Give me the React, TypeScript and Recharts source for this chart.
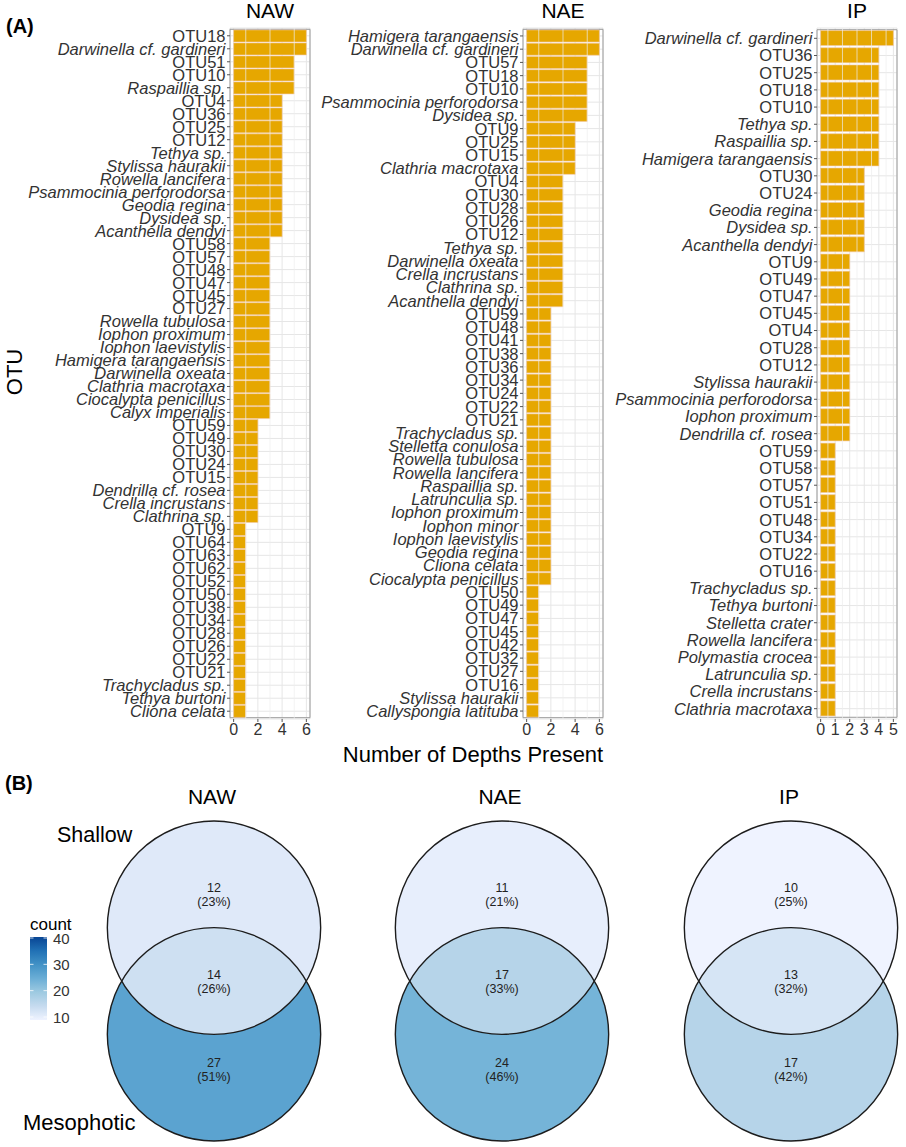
import React from "react";
import {
  BarChart,
  Bar,
  XAxis,
  YAxis,
  CartesianGrid,
  ReferenceLine,
  ReferenceArea,
  ScatterChart,
  Scatter,
} from "recharts";

const FONT = "'Liberation Sans', Arial, Helvetica, sans-serif";

// ---- Panel A: number of depths each OTU was found at ----
const nawTaxa = [
  "OTU18", "Darwinella cf. gardineri", "OTU51", "OTU10", "Raspaillia sp.",
  "OTU4", "OTU36", "OTU25", "OTU12", "Tethya sp.", "Stylissa haurakii",
  "Rowella lancifera", "Psammocinia perforodorsa", "Geodia regina", "Dysidea sp.",
  "Acanthella dendyi", "OTU58", "OTU57", "OTU48", "OTU47", "OTU45", "OTU27",
  "Rowella tubulosa", "Iophon proximum", "Iophon laevistylis", "Hamigera tarangaensis",
  "Darwinella oxeata", "Clathria macrotaxa", "Ciocalypta penicillus", "Calyx imperialis",
  "OTU59", "OTU49", "OTU30", "OTU24", "OTU15", "Dendrilla cf. rosea",
  "Crella incrustans", "Clathrina sp.", "OTU9", "OTU64", "OTU63", "OTU62", "OTU52",
  "OTU50", "OTU38", "OTU34", "OTU28", "OTU26", "OTU22", "OTU21",
  "Trachycladus sp.", "Tethya burtoni", "Cliona celata",
];
const nawDepths = [
  6, 6, 5, 5, 5,
  4, 4, 4, 4, 4, 4, 4, 4, 4, 4, 4,
  3, 3, 3, 3, 3, 3, 3, 3, 3, 3, 3, 3, 3, 3,
  2, 2, 2, 2, 2, 2, 2, 2,
  1, 1, 1, 1, 1, 1, 1, 1, 1, 1, 1, 1, 1, 1, 1,
];

const naeTaxa = [
  "Hamigera tarangaensis", "Darwinella cf. gardineri", "OTU57", "OTU18", "OTU10",
  "Psammocinia perforodorsa", "Dysidea sp.", "OTU9", "OTU25", "OTU15",
  "Clathria macrotaxa", "OTU4", "OTU30", "OTU28", "OTU26", "OTU12", "Tethya sp.",
  "Darwinella oxeata", "Crella incrustans", "Clathrina sp.", "Acanthella dendyi",
  "OTU59", "OTU48", "OTU41", "OTU38", "OTU36", "OTU34", "OTU24", "OTU22", "OTU21",
  "Trachycladus sp.", "Stelletta conulosa", "Rowella tubulosa", "Rowella lancifera",
  "Raspaillia sp.", "Latrunculia sp.", "Iophon proximum", "Iophon minor",
  "Iophon laevistylis", "Geodia regina", "Cliona celata", "Ciocalypta penicillus",
  "OTU50", "OTU49", "OTU47", "OTU45", "OTU42", "OTU32", "OTU27", "OTU16",
  "Stylissa haurakii", "Callyspongia latituba",
];
const naeDepths = [
  6, 6, 5, 5, 5, 5, 5,
  4, 4, 4, 4,
  3, 3, 3, 3, 3, 3, 3, 3, 3, 3,
  2, 2, 2, 2, 2, 2, 2, 2, 2, 2, 2, 2, 2, 2, 2, 2, 2, 2, 2, 2, 2,
  1, 1, 1, 1, 1, 1, 1, 1, 1, 1,
];

const ipTaxa = [
  "Darwinella cf. gardineri", "OTU36", "OTU25", "OTU18", "OTU10", "Tethya sp.",
  "Raspaillia sp.", "Hamigera tarangaensis", "OTU30", "OTU24", "Geodia regina",
  "Dysidea sp.", "Acanthella dendyi", "OTU9", "OTU49", "OTU47", "OTU45", "OTU4",
  "OTU28", "OTU12", "Stylissa haurakii", "Psammocinia perforodorsa",
  "Iophon proximum", "Dendrilla cf. rosea", "OTU59", "OTU58", "OTU57", "OTU51",
  "OTU48", "OTU34", "OTU22", "OTU16", "Trachycladus sp.", "Tethya burtoni",
  "Stelletta crater", "Rowella lancifera", "Polymastia crocea", "Latrunculia sp.",
  "Crella incrustans", "Clathria macrotaxa",
];
const ipDepths = [
  5,
  4, 4, 4, 4, 4, 4, 4,
  3, 3, 3, 3, 3,
  2, 2, 2, 2, 2, 2, 2, 2, 2, 2, 2,
  1, 1, 1, 1, 1, 1, 1, 1, 1, 1, 1, 1, 1, 1, 1, 1,
];

// ---- Panel B: Venn counts per region ----
const vennSites = ["NAW", "NAE", "IP"];
const shallowOnly = [12, 11, 10];
const sharedBoth = [14, 17, 13];
const mesophoticOnly = [27, 24, 17];
const countLegendTicks = [40, 30, 20, 10];

// ---- layout ----
const PLOT_TOP = 28;
const PLOT_H = 691;
const PLOT_W = 80;
const CHART_H = PLOT_TOP + PLOT_H + 30;

const BLUES = ["#EFF3FF", "#C6DBEF", "#9ECAE1", "#6BAED6", "#4292C6", "#2171B5", "#084594"];
const FILL_MIN = 10;
const FILL_MAX = 40;

function hex(c: string) {
  return [1, 3, 5].map((i) => parseInt(c.slice(i, i + 2), 16));
}

function blues(v: number) {
  const t = Math.min(1, Math.max(0, (v - FILL_MIN) / (FILL_MAX - FILL_MIN)));
  const pos = t * (BLUES.length - 1);
  const i = Math.min(BLUES.length - 2, Math.floor(pos));
  const f = pos - i;
  const a = hex(BLUES[i]);
  const b = hex(BLUES[i + 1]);
  const rgb = a.map((x, k) => Math.round(x + (b[k] - x) * f));
  return `rgb(${rgb.join(",")})`;
}

// R style rounding (half to even) so 32.5 gives 32
function pct(v: number, total: number) {
  const p = (v / total) * 100;
  const f = Math.floor(p);
  if (Math.abs(p - f - 0.5) < 1e-9) return f % 2 === 0 ? f : f + 1;
  return Math.round(p);
}

const OtuTick = (props: any) => {
  const { x, y, payload } = props;
  const label = String(payload.value);
  const italic = !label.startsWith("OTU");
  return (
    <text
      x={x}
      y={y}
      dy="0.36em"
      textAnchor="end"
      fontSize={16.5}
      fill="#333"
      fontFamily={FONT}
      fontStyle={italic ? "italic" : "normal"}
    >
      {label}
    </text>
  );
};

function DepthPanel({
  taxa,
  depths,
  left,
  axisWidth,
  maxTick,
  majorTicks,
  minorTicks,
}: {
  taxa: string[];
  depths: number[];
  left: number;
  axisWidth: number;
  maxTick: number;
  majorTicks: number[];
  minorTicks: number[];
}) {
  const data = taxa.map((name, i) => ({ name, depths: depths[i] }));
  const band = PLOT_H / (data.length + 0.2);
  const pad = band * 0.1;
  const lo = -0.05 * maxTick;
  const hi = maxTick * 1.05;
  return (
    <div style={{ position: "absolute", left, top: 0 }}>
      <BarChart
        width={axisWidth + PLOT_W + 5}
        height={CHART_H}
        data={data}
        layout="vertical"
        margin={{ top: PLOT_TOP, right: 5, bottom: 0, left: 0 }}
        barCategoryGap="5%"
      >
        <CartesianGrid stroke="#E6E6E6" strokeWidth={1} />
        {minorTicks.map((v) => (
          <ReferenceLine key={v} x={v} stroke="#EEEEEE" strokeWidth={0.7} />
        ))}
        <XAxis
          type="number"
          domain={[lo, hi]}
          ticks={majorTicks}
          allowDataOverflow
          interval={0}
          axisLine={false}
          tickLine={{ stroke: "#555" }}
          tickSize={3}
          tickMargin={2}
          height={30}
          tick={{ fontSize: 16, fill: "#333", fontFamily: FONT }}
        />
        <YAxis
          type="category"
          dataKey="name"
          width={axisWidth}
          interval={0}
          axisLine={false}
          tickLine={{ stroke: "#555" }}
          tickSize={3}
          tickMargin={1.5}
          tick={<OtuTick />}
          padding={{ top: pad, bottom: pad }}
        />
        <Bar
          dataKey="depths"
          fill="#E6A700"
          stroke="#F2C7A6"
          strokeWidth={0.6}
          isAnimationActive={false}
        />
        <ReferenceArea
          x1={lo}
          x2={hi}
          fill="none"
          stroke="#9A9A9A"
          strokeWidth={1}
          ifOverflow="visible"
        />
      </BarChart>
    </div>
  );
}

// Venn geometry: two unit circles, centres one radius apart
const VW = 288;
const VH = 330;
const PPU = VW / 2.7;
const X_HALF = 1.35;
const Y_HALF = VH / PPU / 2;
const CENTRE_OFFSET = 0.5;
const VENN_MID_Y = 980.5;
const vennCentreX = [214, 502, 791];

const CircleFill = (p: any) => (
  <circle cx={p.cx} cy={p.cy} r={PPU} fill={blues(p.payload.count)} />
);

const CircleEdge = (p: any) => (
  <circle cx={p.cx} cy={p.cy} r={PPU} fill="none" stroke="#1c1c1c" strokeWidth={1.4} />
);

const LensFill = (p: any) => {
  const w = Math.sqrt(1 - CENTRE_OFFSET * CENTRE_OFFSET) * PPU;
  const d = `M ${p.cx - w} ${p.cy} A ${PPU} ${PPU} 0 0 1 ${p.cx + w} ${p.cy} A ${PPU} ${PPU} 0 0 1 ${p.cx - w} ${p.cy} Z`;
  return <path d={d} fill={blues(p.payload.count)} />;
};

const CountLabel = (p: any) => (
  <text textAnchor="middle" fontSize={12.5} fill="#222" fontFamily={FONT}>
    <tspan x={p.cx} y={p.cy - 2.5}>{p.payload.count}</tspan>
    <tspan x={p.cx} y={p.cy + 11.5}>({pct(p.payload.count, p.payload.total)}%)</tspan>
  </text>
);

function VennPanel({ idx }: { idx: number }) {
  const total = shallowOnly[idx] + sharedBoth[idx] + mesophoticOnly[idx];
  const circles = [
    { x: 0, y: -CENTRE_OFFSET, count: mesophoticOnly[idx] },
    { x: 0, y: CENTRE_OFFSET, count: shallowOnly[idx] },
  ];
  const lens = [{ x: 0, y: 0, count: sharedBoth[idx] }];
  const labels = [
    { x: 0, y: 0.81, count: shallowOnly[idx], total },
    { x: 0, y: 0, count: sharedBoth[idx], total },
    { x: 0, y: -0.83, count: mesophoticOnly[idx], total },
  ];
  return (
    <div
      style={{
        position: "absolute",
        left: vennCentreX[idx] - VW / 2,
        top: VENN_MID_Y - VH / 2,
      }}
    >
      <ScatterChart width={VW} height={VH} margin={{ top: 0, right: 0, bottom: 0, left: 0 }}>
        <XAxis type="number" dataKey="x" domain={[-X_HALF, X_HALF]} hide allowDataOverflow />
        <YAxis type="number" dataKey="y" domain={[-Y_HALF, Y_HALF]} hide allowDataOverflow />
        <Scatter data={circles} shape={CircleFill} isAnimationActive={false} />
        <Scatter data={lens} shape={LensFill} isAnimationActive={false} />
        <Scatter data={circles} shape={CircleEdge} isAnimationActive={false} />
        <Scatter data={labels} shape={CountLabel} isAnimationActive={false} />
      </ScatterChart>
    </div>
  );
}

function Overlay() {
  const barTop = 937;
  const barBottom = 1020;
  const legendY = (v: number) => 1017 - ((v - 10) * 79) / 30;
  return (
    <svg
      width={906}
      height={1147}
      style={{ position: "absolute", left: 0, top: 0, pointerEvents: "none" }}
      fontFamily={FONT}
    >
      <defs>
        <linearGradient id="countGrad" x1="0" y1="1" x2="0" y2="0">
          {BLUES.map((c, i) => (
            <stop key={c} offset={i / (BLUES.length - 1)} stopColor={c} />
          ))}
        </linearGradient>
      </defs>
      <text x={6} y={33} fontSize={20} fontWeight="bold">(A)</text>
      <text x={270} y={18} fontSize={21} textAnchor="middle">NAW</text>
      <text x={563} y={18} fontSize={21} textAnchor="middle">NAE</text>
      <text x={857} y={18} fontSize={21} textAnchor="middle">IP</text>
      <text x={22} y={372} fontSize={22} textAnchor="middle" transform="rotate(-90 22 372)">
        OTU
      </text>
      <text x={473} y={762} fontSize={22} textAnchor="middle">Number of Depths Present</text>

      <text x={5} y={790} fontSize={20} fontWeight="bold">(B)</text>
      {vennSites.map((s, i) => (
        <text key={s} x={vennCentreX[i] - 2} y={804} fontSize={21} textAnchor="middle">
          {s}
        </text>
      ))}
      <text x={57} y={842} fontSize={21.5}>Shallow</text>
      <text x={23} y={1130} fontSize={22}>Mesophotic</text>

      <text x={30} y={930} fontSize={17}>count</text>
      <rect x={30} y={barTop} width={17} height={barBottom - barTop} fill="url(#countGrad)" />
      {countLegendTicks.map((v) => (
        <g key={v}>
          <line x1={30} x2={33.5} y1={legendY(v)} y2={legendY(v)} stroke="#fff" strokeWidth={0.8} />
          <line x1={43.5} x2={47} y1={legendY(v)} y2={legendY(v)} stroke="#fff" strokeWidth={0.8} />
          <text x={53} y={legendY(v) + 5.5} fontSize={15} fill="#333">
            {v}
          </text>
        </g>
      ))}
    </svg>
  );
}

export default function App() {
  return (
    <div
      style={{
        position: "absolute",
        left: 0,
        top: 0,
        width: 906,
        height: 1147,
        background: "#fff",
        fontFamily: FONT,
      }}
    >
      <DepthPanel
        taxa={nawTaxa}
        depths={nawDepths}
        left={0}
        axisWidth={230}
        maxTick={6}
        majorTicks={[0, 2, 4, 6]}
        minorTicks={[1, 3, 5]}
      />
      <DepthPanel
        taxa={naeTaxa}
        depths={naeDepths}
        left={310}
        axisWidth={213}
        maxTick={6}
        majorTicks={[0, 2, 4, 6]}
        minorTicks={[1, 3, 5]}
      />
      <DepthPanel
        taxa={ipTaxa}
        depths={ipDepths}
        left={605}
        axisWidth={212}
        maxTick={5}
        majorTicks={[0, 1, 2, 3, 4, 5]}
        minorTicks={[0.5, 1.5, 2.5, 3.5, 4.5]}
      />
      {vennSites.map((s, i) => (
        <VennPanel key={s} idx={i} />
      ))}
      <Overlay />
    </div>
  );
}
